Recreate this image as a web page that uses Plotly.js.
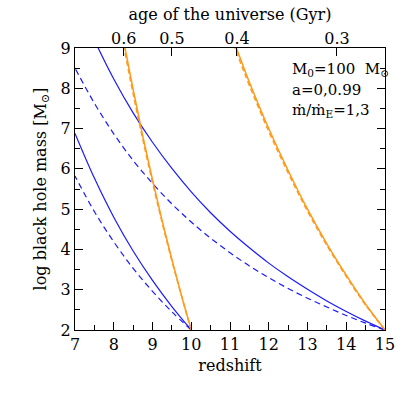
<!DOCTYPE html>
<html>
<head>
<meta charset="utf-8">
<script src="https://cdn.plot.ly/plotly-3.0.1.min.js"></script>
<style>
  body { margin: 0; background: #fff; }
  #chart { width: 407px; height: 407px; }
</style>
</head>
<body>
<div id="chart"></div>
<script>
// seed at z=15, Eddington ratio 1 (blue)
let zFrom15 = [15, 14.5, 14, 13.5, 13, 12.5, 12, 11.5, 11, 10.5, 10, 9.5, 9, 8.5, 8, 7.5, 7];
let blueSolid15 = [2, 2.22, 2.46, 2.72, 3.01, 3.32, 3.66, 4.04, 4.45, 4.91, 5.43, 6.01, 6.66, 7.39, 8.23, 9.2, 10.3];
let blueDash15 = [2, 2.17, 2.36, 2.57, 2.79, 3.03, 3.30, 3.59, 3.92, 4.28, 4.68, 5.13, 5.64, 6.21, 6.87, 7.63, 8.50];

// seed at z=10, Eddington ratio 1 (blue)
let zFrom10 = [10, 9.5, 9, 8.5, 8, 7.5, 7];
let blueSolid10 = [2, 2.58, 3.23, 3.96, 4.80, 5.77, 6.88];
let blueDash10 = [2, 2.45, 2.96, 3.53, 4.19, 4.94, 5.82];

// Eddington ratio 3 (orange)
let zOr10 = [10, 9.75, 9.5, 9.25, 9, 8.75, 8.5, 8.25];
let orSolid10 = [2, 2.85, 3.75, 4.71, 5.73, 6.81, 7.97, 9.20];
let orDash10 = [2, 2.84, 3.72, 4.66, 5.67, 6.73, 7.87, 9.08];

let zOr15 = [15, 14.5, 14, 13.5, 13, 12.5, 12, 11.5, 11.25, 11];
let orSolid15 = [2, 2.64, 3.36, 4.14, 5.0, 5.96, 7.0, 8.15, 8.78, 9.42];
let orDash15 = [2, 2.62, 3.33, 4.10, 4.95, 5.90, 6.93, 8.07, 8.69, 9.33];

// top axis: age of the universe
let ageTickZ = [8.26, 9.5, 11.18, 13.76];
let ageTickText = ["0.6", "0.5", "0.4", "0.3"];

let blue = "#1a1aff";
let orange = "#ff9a1a";

function line(x, y, color, dash, width) {
  return {
    x: x, y: y, type: "scatter", mode: "lines",
    line: { color: color, width: width, dash: dash, shape: "spline" },
    hoverinfo: "skip", showlegend: false
  };
}

let traces = [
  line(zFrom15, blueSolid15, blue, "solid", 1.2),
  line(zFrom15, blueDash15, blue, "6px,4px", 1.2),
  line(zFrom10, blueSolid10, blue, "solid", 1.2),
  line(zFrom10, blueDash10, blue, "6px,4px", 1.2),
  line(zOr10, orSolid10, orange, "solid", 1.5),
  line(zOr10, orDash10, orange, "5px,3px", 1.5),
  line(zOr15, orSolid15, orange, "solid", 1.5),
  line(zOr15, orDash15, orange, "5px,3px", 1.5),
  { x: [7, 15], y: [2, 2], xaxis: "x2", type: "scatter", mode: "lines",
    line: { width: 0 }, hoverinfo: "skip", showlegend: false }
];

let font = { family: "DejaVu Serif, serif", size: 16, color: "#000" };

let layout = {
  width: 407, height: 407,
  margin: { l: 75, r: 22, t: 48, b: 77 },
  paper_bgcolor: "#fff", plot_bgcolor: "#fff",
  font: font,
  showlegend: false,
  xaxis: {
    range: [7, 15], dtick: 1, tick0: 7,
    ticks: "inside", ticklen: 8, tickwidth: 1, tickcolor: "#000",
    minor: { dtick: 0.5, ticks: "inside", ticklen: 5, tickcolor: "#000", showgrid: false },
    showline: true, linecolor: "#000", linewidth: 1, mirror: true,
    showgrid: false, zeroline: false,
    title: { text: "redshift", font: font, standoff: 6 }
  },
  xaxis2: {
    overlaying: "x", side: "top", range: [7, 15],
    tickmode: "array", tickvals: ageTickZ, ticktext: ageTickText,
    ticks: "inside", ticklen: 8, tickwidth: 1, tickcolor: "#000",
    showgrid: false, zeroline: false, showline: false,
    title: { text: "age of the universe (Gyr)", font: font, standoff: 4 }
  },
  yaxis: {
    range: [2, 9], dtick: 1, tick0: 2,
    ticks: "inside", ticklen: 8, tickwidth: 1, tickcolor: "#000",
    minor: { dtick: 0.5, ticks: "inside", ticklen: 5, tickcolor: "#000", showgrid: false },
    showline: true, linecolor: "#000", linewidth: 1, mirror: "ticks",
    showgrid: false, zeroline: false,
    title: { text: "log black hole mass [M<sub>⊙</sub>]", font: font, standoff: 10 }
  },
  annotations: [
    { xref: "paper", yref: "paper", x: 0.694, y: 0.922, xanchor: "left", yanchor: "middle",
      text: "M<sub>0</sub>=100  M<sub>⊙</sub>", showarrow: false, font: { family: font.family, size: 15, color: "#000" } },
    { xref: "paper", yref: "paper", x: 0.694, y: 0.851, xanchor: "left", yanchor: "middle",
      text: "a=0,0.99", showarrow: false, font: { family: font.family, size: 15, color: "#000" } },
    { xref: "paper", yref: "paper", x: 0.694, y: 0.780, xanchor: "left", yanchor: "middle",
      text: "ṁ/ṁ<sub>E</sub>=1,3", showarrow: false, font: { family: font.family, size: 15, color: "#000" } }
  ]
};

Plotly.newPlot("chart", traces, layout, { displayModeBar: false, staticPlot: true });
</script>
</body>
</html>
